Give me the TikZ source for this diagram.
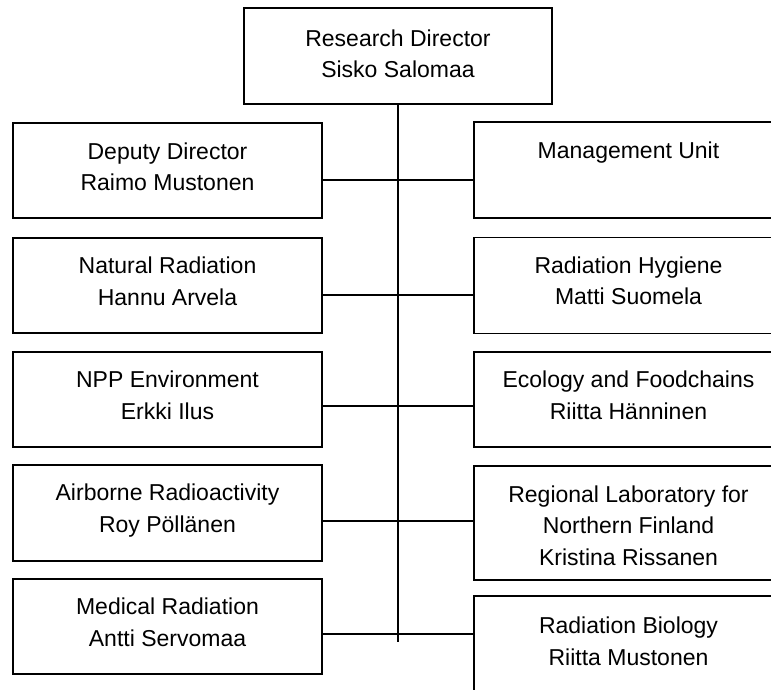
\documentclass[tikz,border=0pt]{standalone}
\usepackage{fontspec}
\setmainfont{Liberation Sans}
\newcommand\orgstrut{\rule[-13pt]{0pt}{31.5pt}}
\begin{document}
\begin{tikzpicture}[x=1pt,y=-1pt,
  box/.style={draw=black, line width=1.2pt, minimum width=309pt, inner sep=0pt},
  txt/.style={anchor=north, inner sep=0pt, align=center, font=\fontsize{23}{31.5}\selectfont},
  conn/.style={draw=black, line width=1.2pt}]
\useasboundingbox (0,0) rectangle (771,689);
\clip (0,0) rectangle (771,689);
% top
\node[box, minimum width=308pt, minimum height=96pt] (top) at (398,56) {};
\node[txt] (topt) at ([yshift=-20pt]top.north) {\orgstrut Research Director\\\orgstrut Sisko Salomaa};
% left column
\node[box, minimum height=95pt] (l1) at (167.5,170.5) {};
\node[box, minimum height=95pt] (l2) at (167.5,285.5) {};
\node[box, minimum height=95pt] (l3) at (167.5,399.5) {};
\node[box, minimum height=96pt] (l4) at (167.5,513) {};
\node[box, minimum height=95pt] (l5) at (167.5,626.5) {};
\node[txt] (l1t) at ([yshift=-18pt]l1.north) {\orgstrut Deputy Director\\\orgstrut Raimo Mustonen};
\node[txt] (l2t) at ([yshift=-17.5pt]l2.north) {\orgstrut Natural Radiation\\\orgstrut Hannu Arvela};
\node[txt] (l3t) at ([yshift=-17.5pt]l3.north) {\orgstrut NPP Environment\\\orgstrut Erkki Ilus};
\node[txt] (l4t) at ([yshift=-17.5pt]l4.north) {\orgstrut Airborne Radioactivity\\\orgstrut Roy Pöllänen};
\node[txt] (l5t) at ([yshift=-17.5pt]l5.north) {\orgstrut Medical Radiation\\\orgstrut Antti Servomaa};
% right column
\node[box, minimum height=96pt] (r1) at (628.5,170) {};
\node[box, minimum height=96pt] (r2) at (628.5,285.5) {};
\node[box, minimum height=95pt] (r3) at (628.5,399.5) {};
\node[box, minimum height=114pt] (r4) at (628.5,523) {};
\node[box, minimum height=110pt] (r5) at (628.5,651) {};
\node[txt] (r1t) at ([yshift=-18pt]r1.north) {\orgstrut Management Unit};
\node[txt] (r2t) at ([yshift=-17.5pt]r2.north) {\orgstrut Radiation Hygiene\\\orgstrut Matti Suomela};
\node[txt] (r3t) at ([yshift=-17.5pt]r3.north) {\orgstrut Ecology and Foodchains\\\orgstrut Riitta Hänninen};
\node[txt] (r4t) at ([yshift=-18pt]r4.north) {\orgstrut Regional Laboratory for\\\orgstrut Northern Finland\\\orgstrut Kristina Rissanen};
\node[txt] (r5t) at ([yshift=-19.5pt]r5.north) {\orgstrut Radiation Biology\\\orgstrut Riitta Mustonen};
% connectors
\coordinate (vend) at (398,642);
\draw[conn] (top.south) -- (vend);
\draw[conn] ([yshift=-9.5pt]l1.east) coordinate (c1) -- (c1 -| r1.west);
\draw[conn] ([yshift=-9.5pt]l2.east) coordinate (c2) -- (c2 -| r2.west);
\draw[conn] ([yshift=-6.5pt]l3.east) coordinate (c3) -- (c3 -| r3.west);
\draw[conn] ([yshift=-8pt]l4.east) coordinate (c4) -- (c4 -| r4.west);
\draw[conn] ([yshift=-7.5pt]l5.east) coordinate (c5) -- (c5 -| r5.west);
\end{tikzpicture}
\end{document}
